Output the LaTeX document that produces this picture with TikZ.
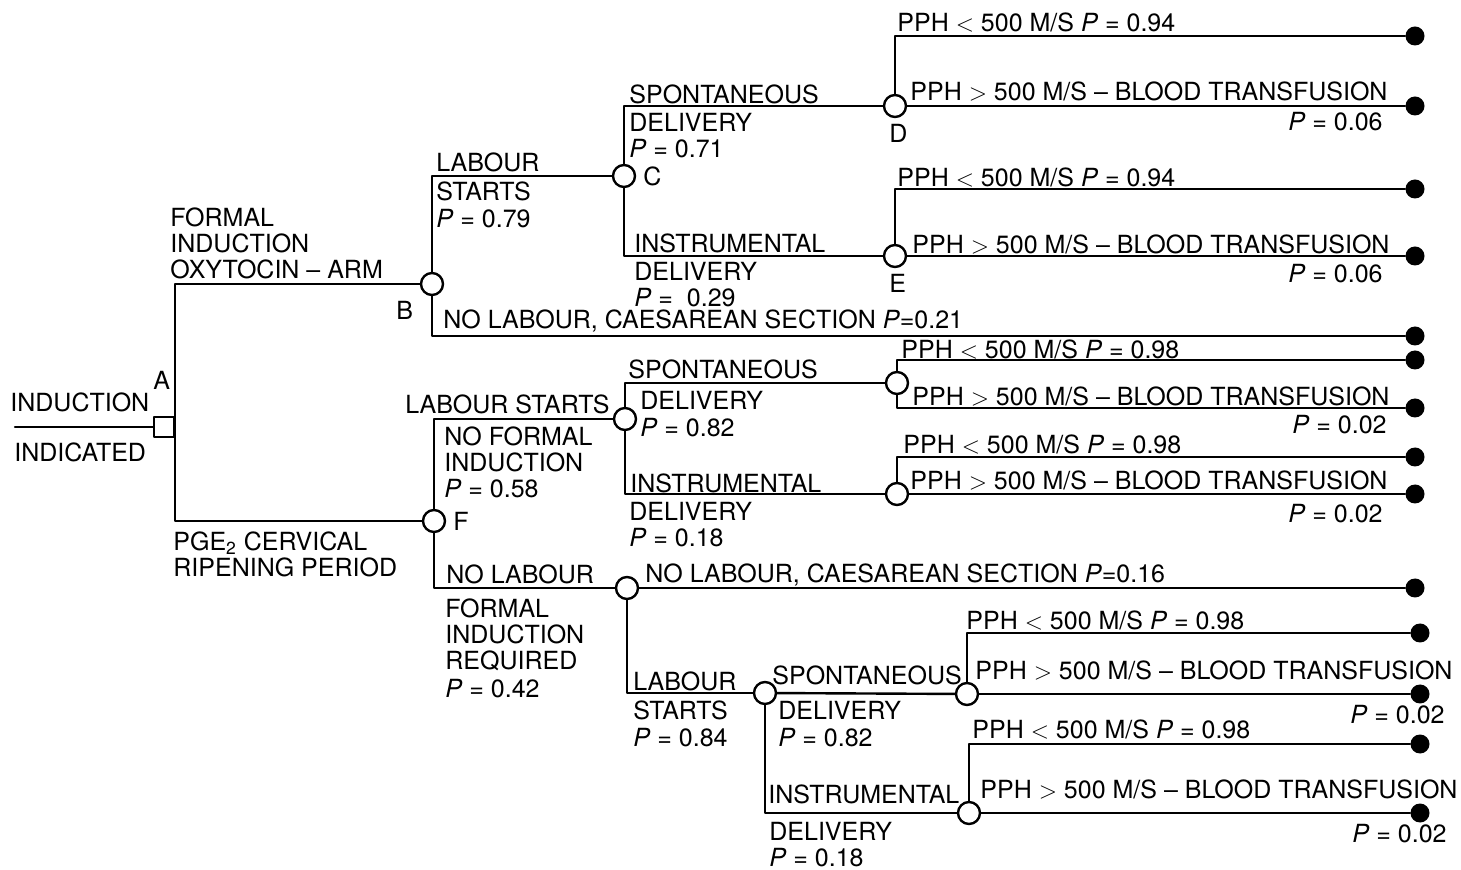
\documentclass[tikz,border=0pt]{standalone}
\usepackage{fontspec}
\setmainfont{TeX Gyre Heros}
\newcommand{\pv}[1]{\textit{P} = #1}
\tikzset{
  every picture/.style={line join=round, line cap=round},
  branch/.style={line width=1.2pt},
  chance/.style={circle, draw, line width=1.2pt, fill=white, minimum size=11pt, inner sep=0pt},
  choice/.style={rectangle, draw, line width=1.2pt, fill=white, minimum size=10pt, inner sep=0pt},
  outcome/.style={circle, fill=black, minimum size=9.5pt, inner sep=0pt},
  lbl/.style={anchor=north west, inner sep=0pt, align=left, font=\fontsize{12.5}{14}\selectfont},
  lblr/.style={lbl, anchor=north east, align=right},
}
\begin{document}
\begin{tikzpicture}[x=0.5pt,y=-0.5pt]
    \useasboundingbox (0,0) rectangle (1461,870);

    % decision and chance nodes
    \coordinate (in) at (15,427);
    \node[choice] (A) at (164,427) {};
    \node[chance] (B) at (432,284) {};
    \node[chance] (F) at (434,521) {};
    \node[chance] (C) at (624,176) {};
    \node[chance] (D) at (895,106) {};
    \node[chance] (E) at (895,256) {};
    \node[chance] (G) at (625,419) {};
    \node[chance] (Gs) at (897,383) {};
    \node[chance] (Gi) at (897,494) {};
    \node[chance] (H) at (627,588) {};
    \node[chance] (I) at (765,693) {};
    \node[chance] (J) at (967,694) {};
    \node[chance] (K) at (969,813) {};

    % outcomes
    \node[outcome] (T1) at (1415,36) {};
    \node[outcome] (T2) at (1415,106) {};
    \node[outcome] (T3) at (1415,189) {};
    \node[outcome] (T4) at (1415,256) {};
    \node[outcome] (T5) at (1415,336) {};
    \node[outcome] (T6) at (1415,360) {};
    \node[outcome] (T7) at (1415,408) {};
    \node[outcome] (T8) at (1415,457) {};
    \node[outcome] (T9) at (1415,494) {};
    \node[outcome] (T10) at (1415,588) {};
    \node[outcome] (T11) at (1420,633) {};
    \node[outcome] (T12) at (1420,694) {};
    \node[outcome] (T13) at (1420,744) {};
    \node[outcome] (T14) at (1420,813) {};

    % branches
    \draw[branch] (in) -- (A);
    \draw[branch] (B) -| (A.east);
    \draw[branch] (F) -| (A.east);
    \draw[branch] (C) -| (B);
    \draw[branch] (B) |- (T5);
    \draw[branch] (C) |- (D);
    \draw[branch] (C) |- (E);
    \draw[branch] (D) |- (T1);
    \draw[branch] (D) -- (T2);
    \draw[branch] (E) |- (T3);
    \draw[branch] (E) -- (T4);
    \draw[branch] (G) -| (F);
    \draw[branch] (F) |- (H);
    \draw[branch] (G) |- (Gs);
    \draw[branch] (G) |- (Gi);
    \draw[branch] (Gs) |- (T6);
    \draw[branch] (Gs) |- (T7);
    \draw[branch] (Gi) |- (T8);
    \draw[branch] (Gi) -- (T9);
    \draw[branch] (H) -- (T10);
    \draw[branch] (H) |- (I);
    \draw[branch] (I) -- (J);
    \draw[branch] (I) |- (K);
    \draw[branch] (J) |- (T11);
    \draw[branch] (J) -- (T12);
    \draw[branch] (K) |- (T13);
    \draw[branch] (K) -- (T14);

    % labels, first branch
    \node[lbl] (in1) at (10,392) {INDUCTION};
    \node[lbl] (in2) at (14,442) {INDICATED};
    \node[lbl] (lA) at (153,371) {A};
    \node[lbl] (lAB) at (170,207) {FORMAL\\[-1pt]INDUCTION\\[-1pt]OXYTOCIN -- ARM};
    \node[lbl] (lB) at (396,301) {B};
    \node[lbl] (lAF) at (173,531) {PGE\textsubscript{2} CERVICAL\\[-1pt]RIPENING PERIOD};
    \node[lbl] (lF) at (453,512) {F};
    \node[lbl] (lBC) at (436,152) {LABOUR\\[0.5pt]STARTS\\[-0.5pt]\pv{0.79}};
    \node[lbl] (lBT) at (443,309) {NO LABOUR, CAESAREAN SECTION \textit{P}=0.21};
    \node[lbl] (lCD) at (629,84) {SPONTANEOUS\\DELIVERY\\[-1pt]\pv{0.71}};
    \node[lbl] (lC) at (643,166) {C};
    \node[lbl] (lCE) at (634,233) {INSTRUMENTAL\\DELIVERY\\[-1pt]\pv{ 0.29}};
    \node[lbl] (lD) at (889,124) {D};
    \node[lbl] (lE) at (889,274) {E};
    \node[lbl] (l1) at (897,12) {PPH $<$ 500 M/S \pv{0.94}};
    \node[lbl] (l2) at (910,81) {PPH $>$ 500 M/S -- BLOOD TRANSFUSION};
    \node[lblr] (l2p) at (1383,112) {\pv{0.06}};
    \node[lbl] (l3) at (897,167) {PPH $<$ 500 M/S \pv{0.94}};
    \node[lbl] (l4) at (912,234) {PPH $>$ 500 M/S -- BLOOD TRANSFUSION};
    \node[lblr] (l4p) at (1383,264) {\pv{0.06}};

    % labels, second branch
    \node[lblr] (lFG) at (610,394) {LABOUR STARTS};
    \node[lbl] (lFG2) at (444,426) {NO FORMAL\\[-1pt]INDUCTION\\[-1pt]\pv{0.58}};
    \node[lbl] (lFH) at (446,564) {NO LABOUR};
    \node[lbl] (lFH2) at (445,598) {FORMAL\\[-1pt]INDUCTION\\[-1pt]REQUIRED\\\pv{0.42}};
    \node[lbl] (lGs) at (628,359) {SPONTANEOUS};
    \node[lbl] (lGs2) at (640,391) {DELIVERY\\[-0.5pt]\pv{0.82}};
    \node[lbl] (lGi) at (630,473) {INSTRUMENTAL};
    \node[lbl] (lGi2) at (629,502) {DELIVERY\\[-1pt]\pv{0.18}};
    \node[lbl] (l6) at (901,339) {PPH $<$ 500 M/S \pv{0.98}};
    \node[lbl] (l7) at (912,386) {PPH $>$ 500 M/S -- BLOOD TRANSFUSION};
    \node[lblr] (l7p) at (1387,415) {\pv{0.02}};
    \node[lbl] (l8) at (903,434) {PPH $<$ 500 M/S \pv{0.98}};
    \node[lbl] (l9) at (910,470) {PPH $>$ 500 M/S -- BLOOD TRANSFUSION};
    \node[lblr] (l9p) at (1383,504) {\pv{0.02}};
    \node[lbl] (lH) at (645,563) {NO LABOUR, CAESAREAN SECTION \textit{P}=0.16};
    \node[lbl] (lHI) at (633,671) {LABOUR\\[0.5pt]STARTS\\[-0.5pt]\pv{0.84}};
    \node[lbl] (lIJ) at (772,665) {SPONTANEOUS};
    \node[lbl] (lIJ2) at (778,701) {DELIVERY\\[-0.5pt]\pv{0.82}};
    \node[lbl] (lIK) at (768,784) {INSTRUMENTAL};
    \node[lbl] (lIK2) at (769,822) {DELIVERY\\[-1pt]\pv{0.18}};
    \node[lbl] (l11) at (966,610) {PPH $<$ 500 M/S \pv{0.98}};
    \node[lbl] (l12) at (975,660) {PPH $>$ 500 M/S -- BLOOD TRANSFUSION};
    \node[lblr] (l12p) at (1445,705) {\pv{0.02}};
    \node[lbl] (l13) at (972,719) {PPH $<$ 500 M/S \pv{0.98}};
    \node[lbl] (l14) at (980,779) {PPH $>$ 500 M/S -- BLOOD TRANSFUSION};
    \node[lblr] (l14p) at (1447,824) {\pv{0.02}};
\end{tikzpicture}
\end{document}
